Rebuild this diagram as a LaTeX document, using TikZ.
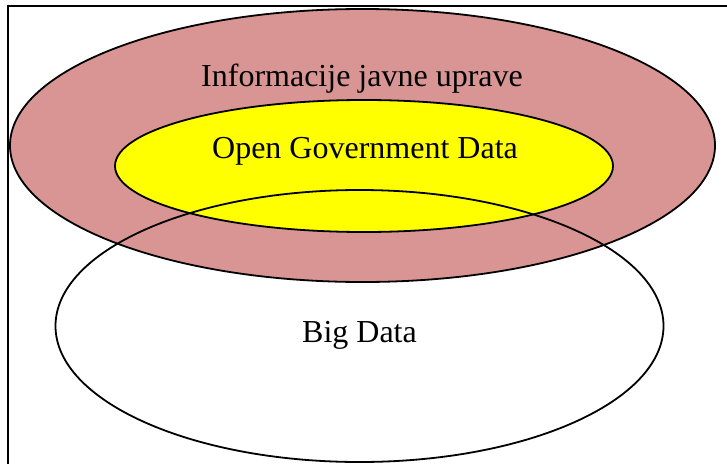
\documentclass[tikz,border=0pt]{standalone}
\usepackage{fontspec}
\setmainfont{Liberation Serif}
\definecolor{outerred}{HTML}{D99594}
\definecolor{ogdyellow}{HTML}{FFFF00}
\tikzset{
  x=1pt, y=-1pt,
  ell/.style={draw=black, line width=1.8pt},
  lbl/.style={font=\fontsize{32}{36}\selectfont, inner sep=0pt}
}
\begin{document}
\begin{tikzpicture}
\useasboundingbox (0,0) rectangle (727,463);
\clip (0,0) rectangle (727,463);
\draw[line width=1.8pt] (8,6) rectangle (740,480);
\draw[ell, fill=outerred] (362.5,145.5) ellipse [x radius=352.5, y radius=136.5];
\draw[ell, fill=ogdyellow] (364,166) ellipse [x radius=249, y radius=66];
\draw[ell] (359.5,326) ellipse [x radius=304, y radius=136];
\node[lbl] (info) at (362,79) {Informacije javne uprave};
\node[lbl] (ogd) at (365,151) {Open Government Data};
\node[lbl] (big) at (359.5,335) {Big Data};
\end{tikzpicture}
\end{document}
